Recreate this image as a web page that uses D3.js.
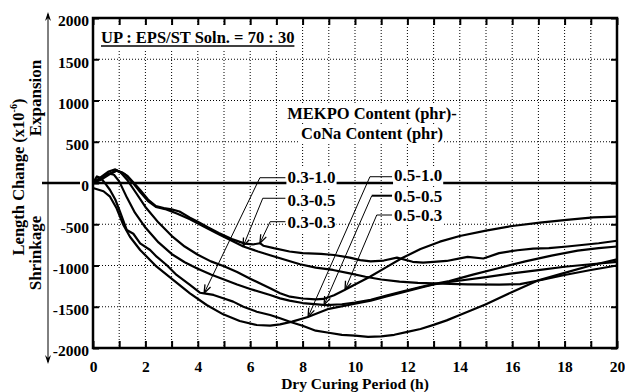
<!DOCTYPE html>
<html>
<head>
<meta charset="utf-8">
<script src="https://cdnjs.cloudflare.com/ajax/libs/d3/7.8.5/d3.min.js"></script>
<style>
body { margin: 0; background: #fff; }
svg { display: block; background: #fff; }
text { font-family: "Liberation Serif", "Times New Roman", serif; font-weight: bold; fill: #000; }
</style>
</head>
<body>
<svg width="625" height="392"></svg>
<script>
// length change (x10^-6) vs dry curing period (h), [hour, value]
var s03_10 = [[0,0],[0.15,80],[0.3,60],[0.5,-20],[0.65,-85],[0.85,-200],[1.03,-348],[1.29,-570],[1.54,-615],[1.8,-731],[2.18,-812],[2.43,-893],[2.81,-994],[3.19,-1115],[3.7,-1236],[4.08,-1330],[4.3,-1340],[4.6,-1357],[4.97,-1398],[5.35,-1438],[5.74,-1499],[6.25,-1560],[6.76,-1600],[7.14,-1640],[7.6,-1690],[8.0,-1730],[8.5,-1790],[9.0,-1815],[9.5,-1840],[10,-1850],[10.5,-1865],[11,-1860],[11.5,-1840],[12,-1805],[12.5,-1770],[13,-1720],[13.5,-1665],[14,-1600],[15,-1470],[16,-1320],[17,-1180],[18,-1090],[19,-1000],[20,-925]];
var s03_05 = [[0,0],[0.3,50],[0.6,110],[0.9,150],[1.2,110],[1.5,10],[1.8,-110],[2.1,-220],[2.4,-290],[2.8,-320],[3.2,-370],[3.7,-440],[4.3,-540],[4.8,-620],[5.3,-700],[5.74,-770],[6.3,-830],[6.76,-875],[7.14,-913],[7.9,-985],[8.5,-1025],[9.16,-1054],[9.8,-1095],[10.4,-1136],[11,-1170],[11.7,-1196],[12.4,-1210],[13,-1216],[14.3,-1228],[15.5,-1232],[16.3,-1225],[17.2,-1170],[18,-1115],[19,-1055],[20,-1000]];
var s03_03 = [[0,0],[0.3,40],[0.6,100],[0.9,150],[1.1,130],[1.3,90],[1.5,20],[1.8,-85],[2.1,-200],[2.4,-280],[2.7,-305],[3.0,-320],[3.3,-345],[3.7,-420],[4.0,-470],[4.4,-540],[4.8,-605],[5.3,-680],[5.8,-735],[6.1,-745],[6.37,-730],[6.5,-760],[6.9,-790],[7.5,-830],[8.0,-850],[8.7,-860],[9.2,-873],[9.8,-905],[10.2,-935],[10.6,-950],[11.1,-940],[11.6,-905],[12.2,-955],[12.6,-965],[13,-955],[13.5,-945],[14,-913],[14.3,-895],[14.9,-915],[15.5,-850],[16.2,-815],[16.8,-795],[17.4,-790],[18.1,-770],[19.3,-730],[20,-700]];
var s05_10 = [[0,-60],[0.4,-100],[0.65,-166],[0.9,-307],[1.16,-509],[1.41,-651],[1.8,-812],[2.43,-1014],[3.07,-1176],[3.7,-1337],[4.34,-1479],[4.97,-1592],[5.6,-1673],[6.25,-1721],[6.76,-1729],[7.14,-1713],[7.6,-1680],[8.2,-1624],[9.0,-1525],[9.9,-1470],[10.6,-1425],[11.2,-1375],[11.8,-1325],[12.5,-1268],[13,-1230],[13.6,-1200],[15,-1140],[16,-1095],[17,-1055],[18,-1015],[19,-985],[20,-955]];
var s05_05 = [[0,0],[0.3,60],[0.55,120],[0.8,100],[1.0,20],[1.3,-180],[1.6,-360],[2.0,-540],[2.5,-720],[3.0,-860],[3.5,-960],[4.0,-1040],[4.5,-1110],[5.0,-1170],[5.5,-1230],[6.0,-1285],[6.76,-1357],[7.14,-1398],[7.5,-1425],[8.0,-1455],[8.9,-1480],[9.5,-1470],[10,-1450],[10.6,-1415],[11.2,-1365],[11.8,-1317],[12.5,-1260],[13,-1225],[13.6,-1190],[14.5,-1110],[15.5,-1030],[16.5,-950],[17.5,-880],[18.5,-820],[19.3,-790],[20,-770]];
var s05_03 = [[0,0],[0.3,70],[0.6,140],[0.85,165],[1.05,130],[1.3,40],[1.6,-100],[2.0,-290],[2.5,-480],[3.0,-640],[3.5,-770],[4.0,-870],[4.5,-950],[5.0,-1010],[5.5,-1080],[6.0,-1160],[6.76,-1277],[7.14,-1337],[7.52,-1378],[8.0,-1400],[8.5,-1410],[8.8,-1405],[9.2,-1360],[9.6,-1297],[10,-1230],[10.57,-1136],[11.2,-1020],[11.8,-910],[12.5,-800],[13.24,-711],[14,-642],[15,-578],[16,-521],[17.06,-481],[18.08,-448],[19.1,-416],[20,-408]];

var seriesNames = ["0.3-1.0", "0.3-0.5", "0.3-0.3", "0.5-1.0", "0.5-0.5", "0.5-0.3"];
var seriesData = [s03_10, s03_05, s03_03, s05_10, s05_05, s05_03];
var hourLabels = [0, 2, 4, 6, 8, 10, 12, 14, 16, 18, 20];
var strainLabels = [2000, 1500, 1000, 500, 0, -500, -1000, -1500, -2000];

// where each label's arrow touches its curve (hour)
var arrowHour = [4.24, 5.73, 6.37, 8.21, 8.82, 9.62];

var serif = '"Liberation Serif", "Times New Roman", serif';
var svg = d3.select("svg");
var x = d3.scaleLinear().domain([0, 20]).range([93, 617]);
var y = d3.scaleLinear().domain([-2000, 2000]).range([348, 18]);

function valueAt(s, h) {
  for (var i = 1; i < s.length; i++) {
    if (s[i][0] >= h) {
      var t = (h - s[i-1][0]) / (s[i][0] - s[i-1][0]);
      return s[i-1][1] + t * (s[i][1] - s[i-1][1]);
    }
  }
  return s[s.length-1][1];
}

// grid
var grid = svg.append("g").attr("stroke", "#000").attr("stroke-width", 1).attr("stroke-dasharray", "1,2");
grid.selectAll(".gx").data(d3.range(1, 20)).enter().append("line")
  .attr("x1", d => x(d)).attr("x2", d => x(d)).attr("y1", y(2000)).attr("y2", y(-2000));
grid.selectAll(".gy").data([1500, 1000, 500, -500, -1000, -1500]).enter().append("line")
  .attr("x1", x(0)).attr("x2", x(20)).attr("y1", d => y(d)).attr("y2", d => y(d));

// zero line
svg.append("line").attr("x1", 42).attr("x2", 80).attr("y1", y(0)).attr("y2", y(0)).attr("stroke", "#000").attr("stroke-width", 2.5);
svg.append("line").attr("x1", x(0)).attr("x2", x(20)).attr("y1", y(0)).attr("y2", y(0)).attr("stroke", "#000").attr("stroke-width", 2.5);

// outer arrow axis
svg.append("line").attr("x1", 48).attr("x2", 48).attr("y1", 14).attr("y2", 362).attr("stroke", "#000").attr("stroke-width", 1);
svg.append("path").attr("d", "M48,12 L45,21 L48,18 L51,21 Z").attr("fill", "#000");
svg.append("path").attr("d", "M48,364 L45,355 L48,358 L51,355 Z").attr("fill", "#000");

function withBg(t, pad) {
  var b = t.node().getBBox();
  d3.select(t.node().parentNode).insert("rect", function() { return t.node(); })
    .attr("x", b.x - pad).attr("y", b.y - pad + 1)
    .attr("width", b.width + 2 * pad).attr("height", b.height + 2 * pad - 2)
    .attr("fill", "#fff");
}

// title
var tg = svg.append("g");
var title = tg.append("text").attr("x", 101).attr("y", 43).attr("font-size", 16.5).text("UP : EPS/ST Soln. = 70 : 30");
withBg(title, 4);
var tb = title.node().getBBox();
tg.append("line").attr("x1", tb.x).attr("x2", tb.x + tb.width).attr("y1", 46).attr("y2", 46).attr("stroke", "#000").attr("stroke-width", 1.5);

var mg = svg.append("g");
withBg(mg.append("text").attr("x", x(10.65)).attr("y", y(776)).attr("text-anchor", "middle").attr("font-size", 16.5).text("MEKPO Content (phr)-"), 1);
withBg(mg.append("text").attr("x", x(10.65)).attr("y", y(530)).attr("text-anchor", "middle").attr("font-size", 16.5).text("CoNa Content (phr)"), 1);

// curve labels with leaders
var labelPos = [[7.42, 0, 6.37, 64], [7.42, -273, 6.48, -185], [7.42, -545, 6.76, -469],
                [11.49, 24, 10.57, 76], [11.49, -230, 10.64, -154], [11.49, -461, 10.83, -388]];
var lg = svg.append("g");
seriesNames.forEach(function(name, i) {
  var p = labelPos[i];
  var t = lg.append("text").attr("x", x(p[0])).attr("y", y(p[1])).attr("font-size", 17).text(name);
  withBg(t, 1);
  var ex = x(p[2]), ey = y(p[3]);
  var tx = x(arrowHour[i]), ty = y(valueAt(seriesData[i], arrowHour[i]));
  lg.append("path").attr("fill", "none").attr("stroke", "#000").attr("stroke-width", i == 4 ? 2 : 1)
    .attr("d", "M" + (x(p[0]) - 2) + "," + ey + "L" + ex + "," + ey);
  lg.append("line").attr("x1", ex).attr("y1", ey).attr("x2", tx).attr("y2", ty).attr("stroke", "#000").attr("stroke-width", 1);
  var a = Math.atan2(ty - ey, tx - ex);
  var hd = [a + Math.PI - 0.35, a + Math.PI + 0.35].map(function(b) {
    return "M" + tx + "," + ty + "L" + (tx + 9 * Math.cos(b)) + "," + (ty + 9 * Math.sin(b));
  }).join("");
  lg.append("path").attr("d", hd).attr("stroke", "#000").attr("stroke-width", 1.3).attr("fill", "none");
});

// curves
var line = d3.line().x(d => x(d[0])).y(d => y(d[1]));
svg.append("g").selectAll("path").data(seriesData).enter().append("path")
  .attr("fill", "none").attr("stroke", "#000").attr("stroke-width", 2.2)
  .attr("stroke-linejoin", "round").attr("d", line);

// ticks
function styleAxis(g) {
  g.select(".domain").remove();
  g.selectAll(".tick line").attr("stroke-width", 2);
  g.attr("font-family", serif).attr("font-size", 15.5).attr("font-weight", "bold");
  g.selectAll("text").attr("font-family", serif);
}
svg.append("g").attr("transform", "translate(0," + y(2000) + ")")
  .call(d3.axisTop(x).tickValues(d3.range(0, 21)).tickSize(-7).tickFormat("")).call(styleAxis);
svg.append("g").attr("transform", "translate(0," + y(-2000) + ")")
  .call(d3.axisBottom(x).tickValues(d3.range(0, 21)).tickSize(-7).tickFormat("")).call(styleAxis);
svg.append("g").attr("transform", "translate(" + x(20) + ",0)")
  .call(d3.axisRight(y).tickValues(strainLabels).tickSize(-6).tickFormat("")).call(styleAxis);
svg.append("g").attr("transform", "translate(" + x(0) + ",0)")
  .call(d3.axisLeft(y).tickValues(strainLabels).tickSize(-6).tickPadding(4).tickFormat(d => String(d)))
  .call(styleAxis)
  .selectAll("text").attr("dy", "0.5em");
svg.append("g").attr("transform", "translate(0," + y(-2000) + ")")
  .call(d3.axisBottom(x).tickValues(hourLabels).tickSize(0).tickPadding(13).tickFormat(d => String(d)))
  .call(styleAxis);

// frame
svg.append("rect").attr("x", x(0)).attr("y", y(2000)).attr("width", x(20) - x(0)).attr("height", y(-2000) - y(2000))
  .attr("fill", "none").attr("stroke", "#000").attr("stroke-width", 2.5);

// axis titles
svg.append("text").attr("x", x(10)).attr("y", 389).attr("text-anchor", "middle").attr("font-size", 15.5).text("Dry Curing Period (h)");
var yt = svg.append("text").attr("transform", "translate(24,177) rotate(-90)").attr("text-anchor", "middle").attr("font-size", 16.5);
yt.append("tspan").text("Length Change (x10");
yt.append("tspan").attr("font-size", 10).attr("dy", -7).text("-6");
yt.append("tspan").attr("dy", 7).text(")");
svg.append("text").attr("transform", "translate(41,98) rotate(-90)").attr("text-anchor", "middle").attr("font-size", 17).text("Expansion");
svg.append("text").attr("transform", "translate(41,253) rotate(-90)").attr("text-anchor", "middle").attr("font-size", 17).text("Shrinkage");
</script>
</body>
</html>
